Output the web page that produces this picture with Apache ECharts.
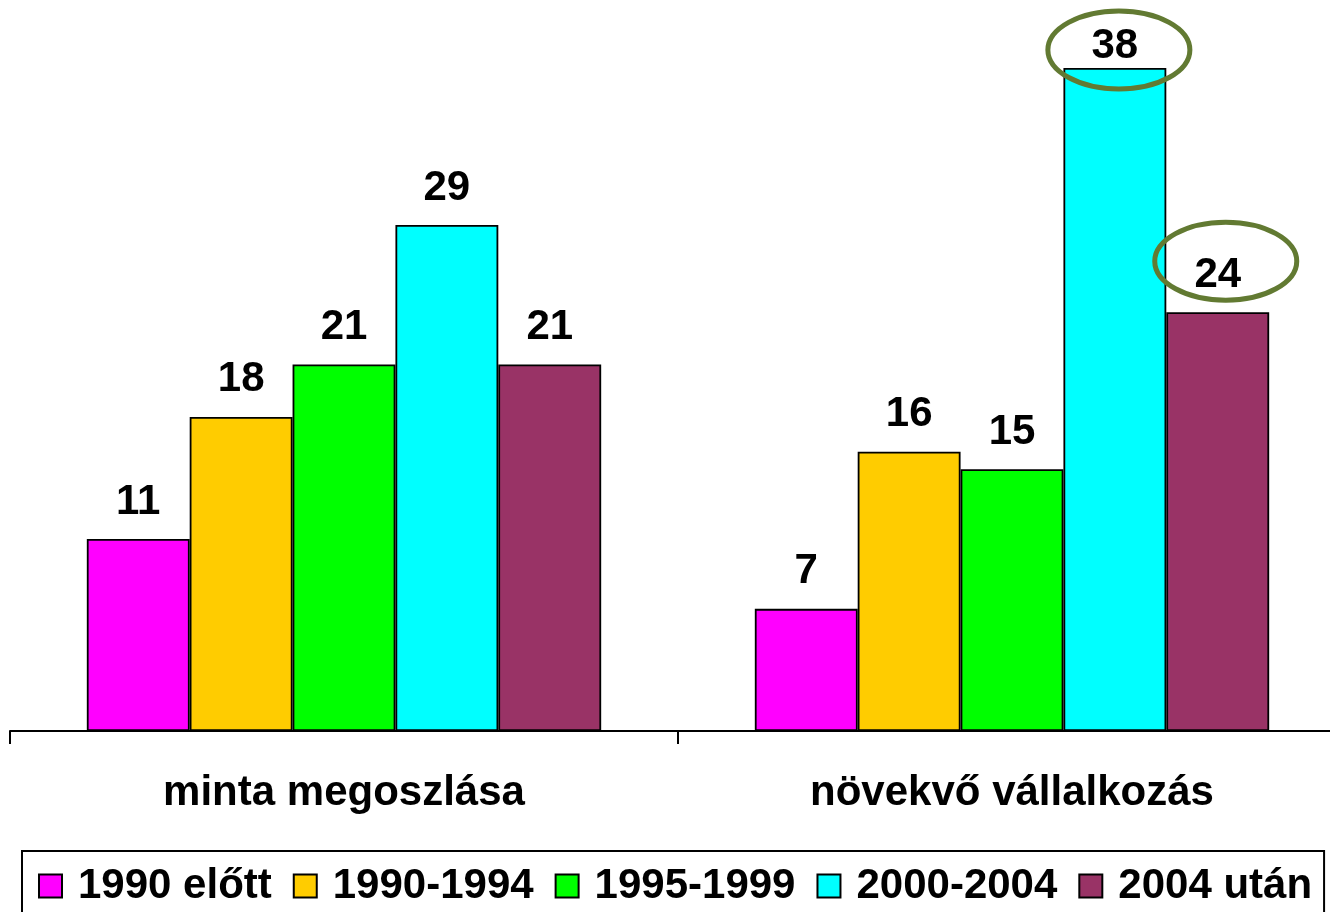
<!DOCTYPE html>
<html><head><meta charset="utf-8">
<script src="https://cdn.jsdelivr.net/npm/echarts@6/dist/echarts.min.js"></script>
<style>html,body{margin:0;padding:0;background:#fff}#c{width:1330px;height:912px}</style>
</head><body><div id="c"></div>
<script>
const categories = ['minta megoszlása', 'növekvő vállalkozás'];
const seriesNames = ['1990 előtt', '1990-1994', '1995-1999', '2000-2004', '2004 után'];
const colors = ['#FF00FF', '#FFCC00', '#00FF00', '#00FFFF', '#993366'];
const s1990elott = [11, 7];
const s1990_1994 = [18, 16];
const s1995_1999 = [21, 15];
const s2000_2004 = [29, 38];
const s2004utan = [21, 24];
const values = [s1990elott, s1990_1994, s1995_1999, s2000_2004, s2004utan];
const highlighted = [[3, 1], [4, 1]]; // [series, category] circled in the original

const FONT = 'Liberation Sans, Arial, sans-serif';
const chart = echarts.init(document.getElementById('c'));

const series = values.map((arr, si) => ({
  name: seriesNames[si],
  type: 'bar',
  barGap: '0%',
  barCategoryGap: '23%',
  itemStyle: { color: colors[si], borderColor: '#000', borderWidth: 1.8 },
  label: {
    show: true, position: 'top', distance: 16,
    color: '#000', fontFamily: FONT, fontWeight: 'bold', fontSize: 42, lineHeight: 42
  },
  data: arr.map((v, ci) => (si === 3 && ci === 1) ? { value: v, label: { distance: 0 } } : v)
}));

chart.setOption({
  animation: false,
  backgroundColor: '#fff',
  grid: { left: 10, top: 33, width: 1336, bottom: 181, outerBoundsMode: 'none', containLabel: false },
  xAxis: {
    type: 'category', data: categories,
    axisLine: { lineStyle: { color: '#000', width: 2 } },
    axisTick: { show: true, length: 13, lineStyle: { color: '#000', width: 2 } },
    axisLabel: { margin: 41, color: '#000', fontFamily: FONT, fontWeight: 'bold', fontSize: 42, lineHeight: 42 }
  },
  yAxis: { type: 'value', min: 0, max: 40, show: false, splitLine: { show: false } },
  legend: {
    left: 22, top: 851,
    padding: [10, 12, 10, 16],
    itemGap: 21, itemWidth: 23, itemHeight: 23,
    borderColor: '#000', borderWidth: 2,
    icon: 'rect',
    textStyle: { color: '#000', fontFamily: FONT, fontWeight: 'bold', fontSize: 42, lineHeight: 50, padding: [0, 0, 0, 11] },
    data: seriesNames
  },
  series: series
});

// Annotation ellipses around the highlighted labels, anchored to the bars' layout
const offsets = [[4, -18], [8, -51]];
const elems = [];
highlighted.forEach((h, i) => {
  const layout = chart.getModel().getSeriesByIndex(h[0]).getData().getItemLayout(h[1]);
  const cx = layout.x + layout.width / 2;
  const top = Math.min(layout.y, layout.y + layout.height);
  elems.push({
    type: 'ellipse', z: 100,
    shape: { cx: cx + offsets[i][0], cy: top + offsets[i][1], rx: 71, ry: 39 },
    style: { fill: 'none', stroke: '#627A32', lineWidth: 5 }
  });
});
chart.setOption({ graphic: elems });
</script>
</body></html>
